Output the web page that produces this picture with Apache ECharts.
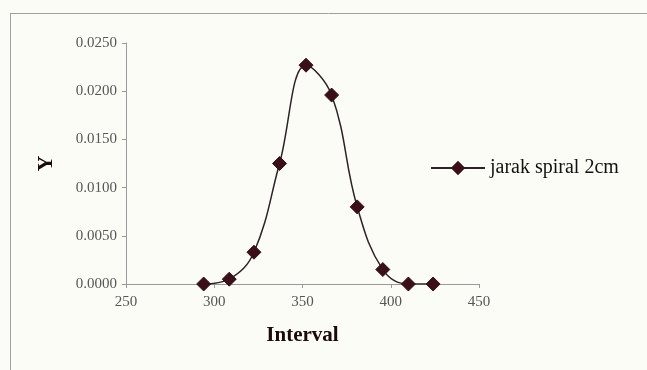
<!DOCTYPE html>
<html>
<head>
<meta charset="utf-8">
<script src="https://cdn.jsdelivr.net/npm/echarts@6/dist/echarts.min.js"></script>
<style>
  html, body { margin: 0; padding: 0; background: #fcfcf7; }
  #chart { width: 647px; height: 370px; }
</style>
</head>
<body>
<div id="chart"></div>
<script>
// Interval midpoints and the measured Y values
const intervals = [294, 308.5, 322.5, 337, 352, 366.5, 381, 395.5, 410, 424];
const yValues = [0.0000, 0.0005, 0.0033, 0.0125, 0.0227, 0.0196, 0.0080, 0.0015, 0.0000, 0.0000];
const seriesName = 'jarak spiral 2cm';
const xTicks = { min: 250, max: 450, step: 50 };
const yTicks = { min: 0, max: 0.025, step: 0.005 };

const points = intervals.map((x, i) => [x, yValues[i]]);
const serif = '"Liberation Serif", "DejaVu Serif", serif';

const chart = echarts.init(document.getElementById('chart'), null, { renderer: 'canvas' });
chart.setOption({
  backgroundColor: '#fcfcf7',
  animation: false,
  textStyle: { fontFamily: serif },
  grid: { left: 126, top: 43, right: 168, bottom: 86, containLabel: false },
  legend: {
    left: 425,
    top: 153,
    itemWidth: 54,
    itemHeight: 18,
    itemGap: 5,
    textStyle: { fontFamily: serif, fontSize: 20, color: '#111' },
    data: [seriesName]
  },
  xAxis: {
    type: 'value',
    min: xTicks.min,
    max: xTicks.max,
    interval: xTicks.step,
    name: 'Interval',
    nameLocation: 'middle',
    nameGap: 41,
    nameTextStyle: { fontFamily: serif, fontSize: 21, fontWeight: 'bold', color: '#1a0a0a' },
    axisLine: { lineStyle: { color: '#999', width: 1 } },
    axisTick: { show: true, length: 4, lineStyle: { color: '#999' } },
    axisLabel: { fontFamily: serif, fontSize: 15, color: '#555', margin: 11 },
    splitLine: { show: false }
  },
  yAxis: {
    type: 'value',
    min: yTicks.min,
    max: yTicks.max,
    interval: yTicks.step,
    name: 'Y',
    nameLocation: 'middle',
    nameRotate: 90,
    nameGap: 69,
    nameTextStyle: { fontFamily: serif, fontSize: 22, fontWeight: 'bold', color: '#1a0a0a' },
    axisLine: { show: true, lineStyle: { color: '#999', width: 1 } },
    axisTick: { show: true, length: 4, lineStyle: { color: '#999' } },
    axisLabel: {
      fontFamily: serif, fontSize: 15, color: '#555', margin: 9,
      formatter: v => v.toFixed(4)
    },
    splitLine: { show: false }
  },
  series: [{
    name: seriesName,
    type: 'line',
    data: points,
    smooth: 0.4,
    symbol: 'diamond',
    symbolSize: 14,
    lineStyle: { color: '#2b2326', width: 1.5 },
    itemStyle: { color: '#3a1018', borderColor: '#3a1018' }
  }],
  graphic: [
    { type: 'line', shape: { x1: 10, y1: 13.5, x2: 647, y2: 13.5 }, style: { stroke: '#a0a0a0', lineWidth: 1 }, silent: true },
    { type: 'line', shape: { x1: 10.5, y1: 13, x2: 10.5, y2: 370 }, style: { stroke: '#a0a0a0', lineWidth: 1 }, silent: true }
  ]
});
</script>
</body>
</html>
